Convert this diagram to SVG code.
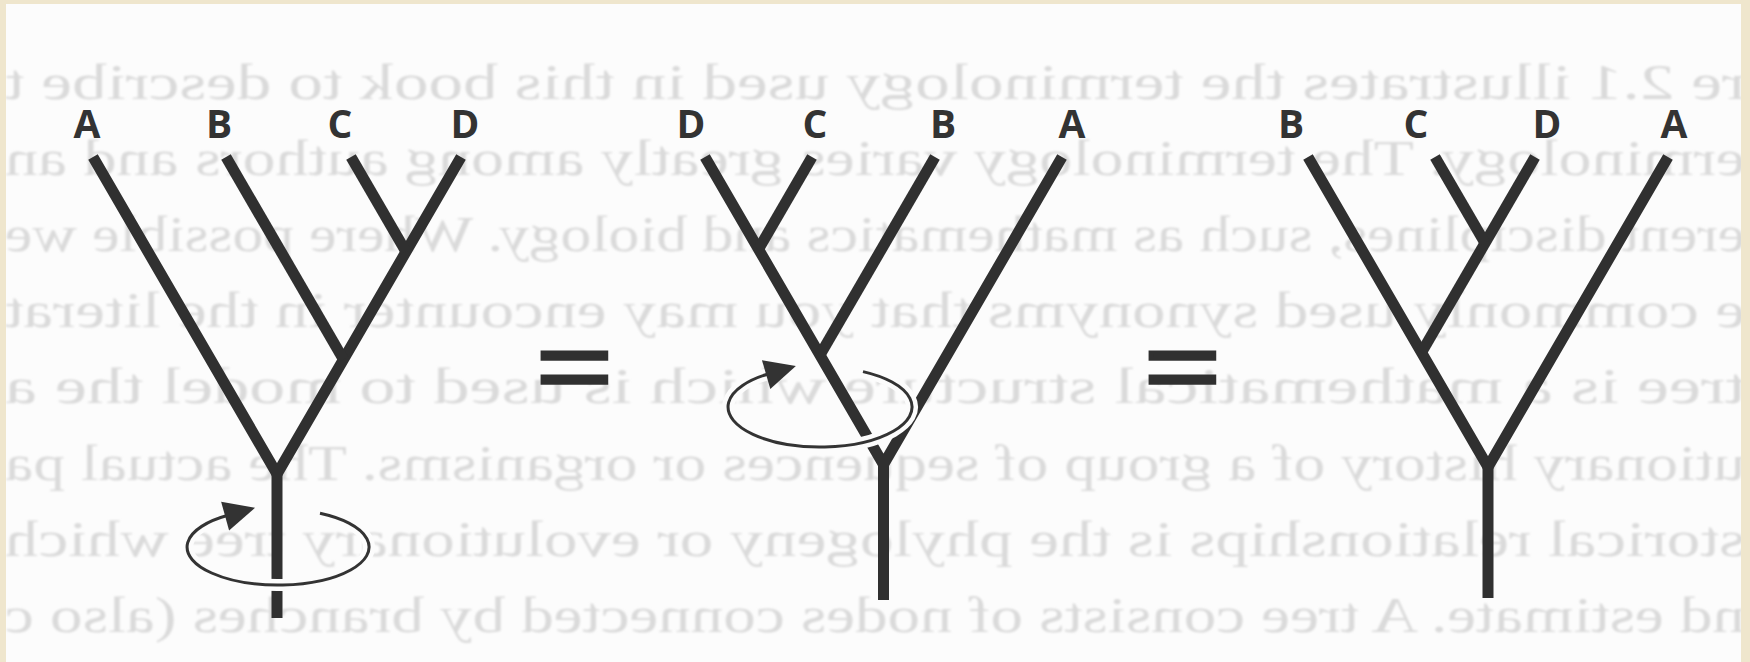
<svg xmlns="http://www.w3.org/2000/svg" width="1750" height="662" viewBox="0 0 1750 662">
<defs>
<style>
.branch{fill:none;stroke:#303030;stroke-width:11;stroke-linejoin:miter;stroke-linecap:butt}
.lbl{font-family:"Open Sans","Noto Sans","DejaVu Sans",sans-serif;font-weight:700;font-size:39px;fill:#333333;text-anchor:middle}
.halo{fill:none;stroke:#fcfcfc;stroke-width:12}
.rot{fill:none;stroke:#333333;stroke-width:3}
.eq{font-family:"Liberation Sans",Arial,sans-serif;font-size:130px;fill:#303030;stroke:#303030;stroke-width:4.5;text-anchor:middle}
.bg{font-family:"Liberation Serif","Times New Roman",serif;font-size:50px;fill:#dadada}
</style>
<clipPath id="page"><rect x="6" y="4" width="1735" height="658"/></clipPath>
<filter id="soft" x="-2%" y="-10%" width="104%" height="120%"><feGaussianBlur stdDeviation="0.9"/></filter>
<marker id="arrow" markerUnits="userSpaceOnUse" markerWidth="45" markerHeight="40" viewBox="-5 -20 45 40" refX="0" refY="0" orient="auto">
<path d="M-3,-15 L28,0 L-3,15 Z" fill="#333333"/>
</marker>
</defs>
<rect width="1750" height="662" fill="#efe6cd"/>
<rect x="6" y="4" width="1735" height="658" fill="#fcfcfc"/>
<g id="show-through" clip-path="url(#page)">
<g transform="translate(1750,0) scale(-1,1)" filter="url(#soft)">
<text class="bg" x="5" y="99" textLength="1740" lengthAdjust="spacingAndGlyphs">re 2.1 illustrates the terminology used in this book to describe t</text>
<text class="bg" x="5" y="175" textLength="1740" lengthAdjust="spacingAndGlyphs">erminology. The terminology varies greatly among authors and an</text>
<text class="bg" x="5" y="251" textLength="1740" lengthAdjust="spacingAndGlyphs">erent disciplines, such as mathematics and biology. Where possible we</text>
<text class="bg" x="5" y="327" textLength="1740" lengthAdjust="spacingAndGlyphs">e commonly used synonyms that you may encounter in the literat</text>
<text class="bg" x="5" y="403" textLength="1740" lengthAdjust="spacingAndGlyphs">tree is a mathematical structure which is used to model the a</text>
<text class="bg" x="5" y="480" textLength="1740" lengthAdjust="spacingAndGlyphs">utionary history of a group of sequences or organisms. The actual pa</text>
<text class="bg" x="5" y="556" textLength="1740" lengthAdjust="spacingAndGlyphs">storical relationships is the phylogeny or evolutionary tree which</text>
<text class="bg" x="5" y="632" textLength="1740" lengthAdjust="spacingAndGlyphs">nd estimate. A tree consists of nodes connected by branches (also c</text>
</g>
</g>
<g id="tree1">
<path class="branch" d="M93,157 L277,474 L461,157"/>
<path class="branch" d="M226,157 L343.5,359.4"/>
<path class="branch" d="M351,157 L406,251.8"/>
<path class="branch" d="M277,472 L277,618"/>
<text class="lbl" x="87" y="138">A</text>
<text class="lbl" x="219" y="138">B</text>
<text class="lbl" x="340" y="138">C</text>
<text class="lbl" x="465" y="138">D</text>
</g>
<g id="equals1" transform="translate(0,367.5) scale(1,0.725) translate(0,-372.25)"><text class="eq" x="574.5" y="416">=</text></g>
<g id="tree2">
<path class="branch" d="M705,157 L883.5,464.5 L1062,157"/>
<path class="branch" d="M812,157 L758.5,249.2"/>
<path class="branch" d="M935,157 L820,355.1"/>
<path class="branch" d="M883.5,462 L883.5,600"/>
<text class="lbl" x="691" y="138">D</text>
<text class="lbl" x="815" y="138">C</text>
<text class="lbl" x="943" y="138">B</text>
<text class="lbl" x="1072" y="138">A</text>
</g>
<g id="equals2" transform="translate(0,367.5) scale(1,0.725) translate(0,-372.25)"><text class="eq" x="1182.5" y="416">=</text></g>
<g id="tree3">
<path class="branch" d="M1308,157 L1488,467 L1668,157"/>
<path class="branch" d="M1535,157 L1421.5,352.5"/>
<path class="branch" d="M1435,157 L1485,243.1"/>
<path class="branch" d="M1488,465 L1488,598"/>
<text class="lbl" x="1291" y="138">B</text>
<text class="lbl" x="1416" y="138">C</text>
<text class="lbl" x="1547" y="138">D</text>
<text class="lbl" x="1674" y="138">A</text>
</g>
<g id="connectors">
<path class="halo" d="M320,513.3 A91,38 0 1,1 228,515.3"/>
<path class="rot" d="M320,513.3 A91,38 0 1,1 228,515.3" marker-end="url(#arrow)"/>
<path class="halo" d="M863,371.6 A92,40 0 1,1 769,373.7"/>
<path class="rot" d="M863,371.6 A92,40 0 1,1 769,373.7" marker-end="url(#arrow)"/>
</g>
</svg>
